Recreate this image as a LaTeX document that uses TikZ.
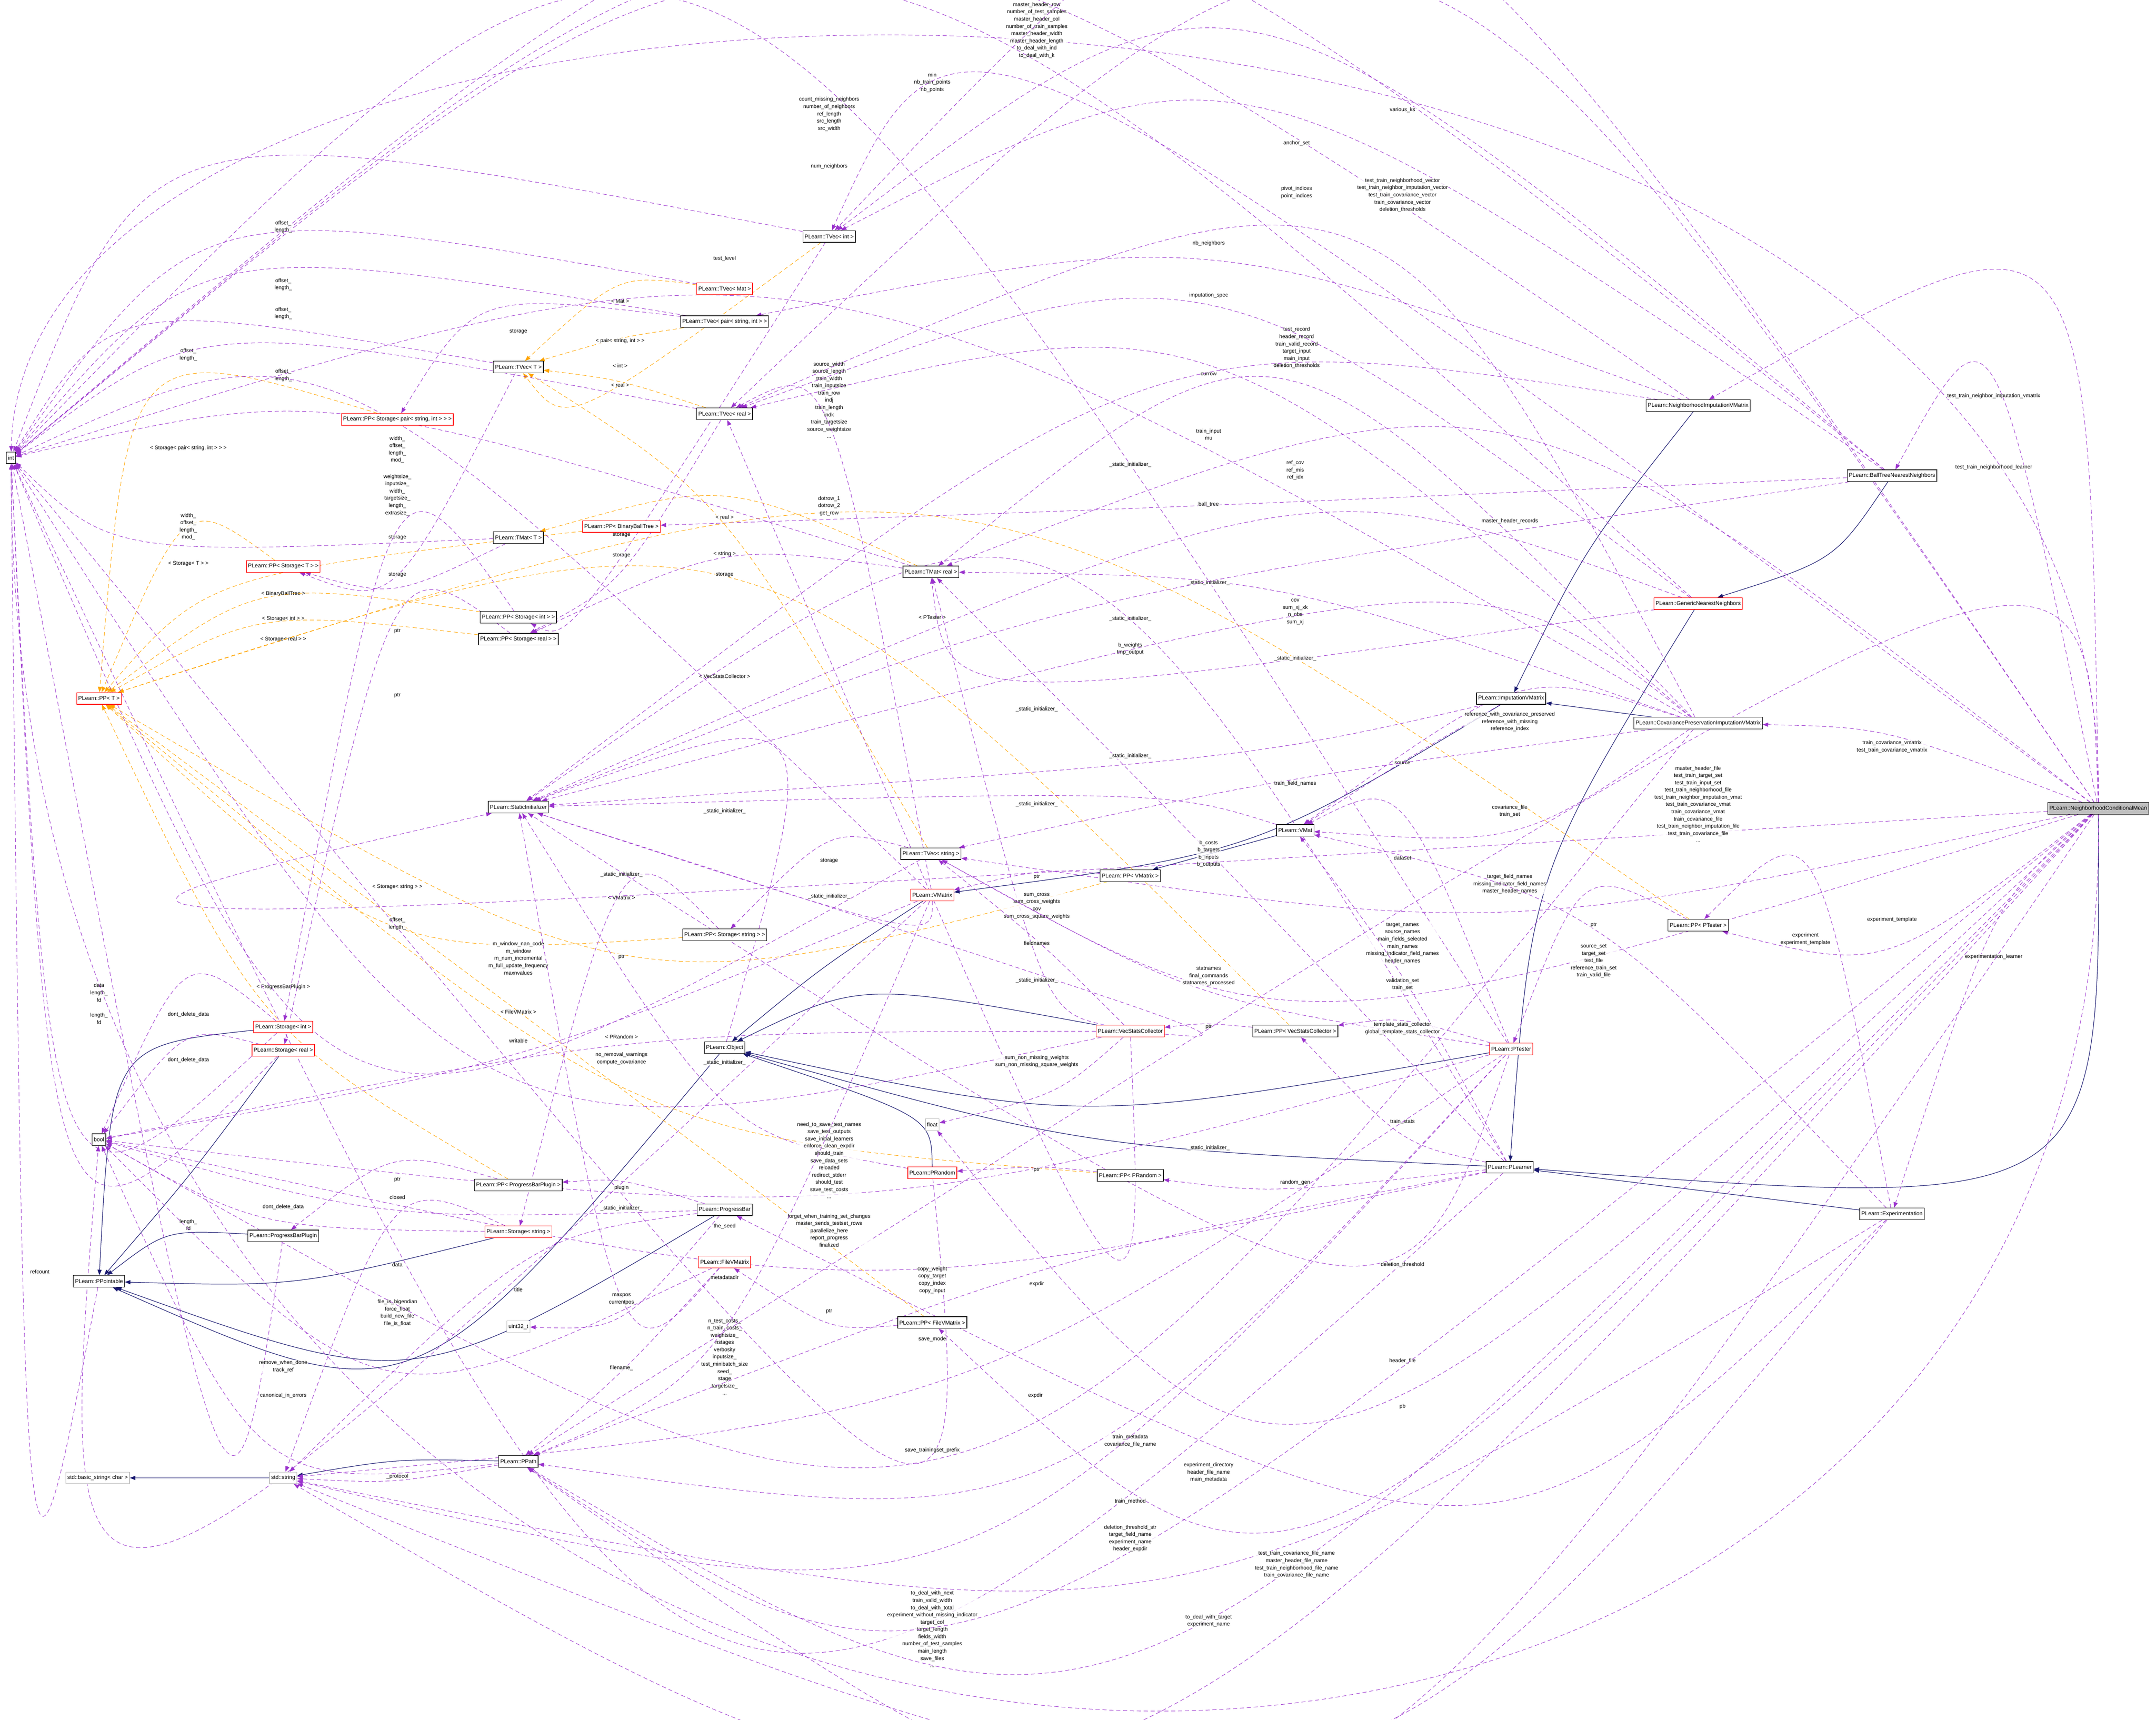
\documentclass[tikz,border=0pt]{standalone}
\usepackage{fontspec}
\setmainfont{Liberation Sans}
\usetikzlibrary{arrows.meta,calc}
\definecolor{pu}{HTML}{9A32CD}
\definecolor{og}{HTML}{FFA500}
\definecolor{nv}{HTML}{191970}
\definecolor{gr}{HTML}{BFBFBF}
\pgfdeclarelayer{bg}
\pgfsetlayers{bg,main}
\tikzset{
 cls/.style={draw=black,line width=1.2pt,fill=white,inner xsep=1.2mm,inner ysep=0pt,minimum height=8.5mm,font=\fontsize{11.5}{13}\selectfont},
 redc/.style={cls,draw=red},
 grc/.style={cls,draw=gr},
 lbl/.style={inner sep=0.3mm,align=center,font=\fontsize{11}{15}\selectfont,fill=white,fill opacity=0.8,text opacity=1},
 use/.style={pu,dash pattern=on 3mm off 2mm,line width=0.9pt,-{Triangle[length=4mm,width=3mm]}},
 tpl/.style={og,dash pattern=on 3mm off 2mm,line width=0.9pt,-{Triangle[length=4mm,width=3mm]}},
 inh/.style={nv,line width=1.1pt,-{Triangle[length=4mm,width=3mm]}},
}
\newcommand\ed[5]{\draw[#1] (#2) .. controls ($2*(#4)-0.5*(#2)-0.5*(#3)$) .. (#3); \node[lbl] at (#4) {#5};}
\newcommand\lnk[4]{\draw[#1] (#2) .. controls ($2*(#4)-0.5*(#2)-0.5*(#3)$) .. (#3);}
\begin{document}
\begin{tikzpicture}[x=1mm,y=-1mm]
\useasboundingbox (0,0) rectangle (1568,1251);
% nodes
\node[cls] (int) at (8,333) {int};
\node[cls] (TVecint) at (603,172) {PLearn::TVec< int >};
\node[redc] (TVecMat) at (527,210) {PLearn::TVec< Mat >};
\node[cls] (TVecPair) at (527,234) {PLearn::TVec< pair< string, int > >};
\node[cls] (TVecT) at (377,267) {PLearn::TVec< T >};
\node[cls] (TVecReal) at (527,301) {PLearn::TVec< real >};
\node[redc] (PPStorPair) at (289,305) {PLearn::PP< Storage< pair< string, int > > >};
\node[cls] (TMatT) at (377,391) {PLearn::TMat< T >};
\node[redc] (PPBBT) at (452,383) {PLearn::PP< BinaryBallTree >};
\node[cls] (TMatReal) at (677,416) {PLearn::TMat< real >};
\node[redc] (PPStorT) at (206,412) {PLearn::PP< Storage< T > >};
\node[cls] (PPStorInt) at (377,449) {PLearn::PP< Storage< int > >};
\node[cls] (PPStorReal) at (377,465) {PLearn::PP< Storage< real > >};
\node[redc] (PPT) at (72,508) {PLearn::PP< T >};
\node[cls] (SI) at (377,587) {PLearn::StaticInitializer};
\node[cls] (TVecString) at (677,621) {PLearn::TVec< string >};
\node[redc] (VMatrix) at (678,651) {PLearn::VMatrix};
\node[cls] (PPStorString) at (527,680) {PLearn::PP< Storage< string > >};
\node[cls] (PPVMatrix) at (822,637) {PLearn::PP< VMatrix >};
\node[cls] (VMat) at (942,604) {PLearn::VMat};
\node[cls] (Object) at (527,762) {PLearn::Object};
\node[redc] (VSC) at (822,750) {PLearn::VecStatsCollector};
\node[cls] (PPVSC) at (942,750) {PLearn::PP< VecStatsCollector >};
\node[redc] (StorInt) at (206,747) {PLearn::Storage< int >};
\node[redc] (StorReal) at (206,764) {PLearn::Storage< real >};
\node[cls] (bool) at (72,829) {bool};
\node[grc] (float) at (678,818) {float};
\node[redc] (PRandom) at (678,853) {PLearn::PRandom};
\node[cls] (PPPRandom) at (822,855) {PLearn::PP< PRandom >};
\node[cls] (PPPBP) at (377,862) {PLearn::PP< ProgressBarPlugin >};
\node[cls] (PB) at (527,880) {PLearn::ProgressBar};
\node[cls] (PBP) at (206,899) {PLearn::ProgressBarPlugin};
\node[redc] (StorString) at (377,896) {PLearn::Storage< string >};
\node[cls] (PPointable) at (72,932) {PLearn::PPointable};
\node[redc] (FileVM) at (527,918) {PLearn::FileVMatrix};
\node[grc] (uint) at (377,965) {uint32\_t};
\node[cls] (PPFileVM) at (678,962) {PLearn::PP< FileVMatrix >};
\node[cls] (PPath) at (377,1063) {PLearn::PPath};
\node[grc] (str) at (206,1075) {std::string};
\node[grc] (bstr) at (71,1075) {std::basic\_string< char >};
\node[cls] (Imp) at (1099,508) {PLearn::ImputationVMatrix};
\node[cls] (Cov) at (1235,526) {PLearn::CovariancePreservationImputationVMatrix};
\node[cls] (NIVM) at (1235,295) {PLearn::NeighborhoodImputationVMatrix};
\node[cls] (BT) at (1376,346) {PLearn::BallTreeNearestNeighbors};
\node[redc] (GNN) at (1235,439) {PLearn::GenericNearestNeighbors};
\node[cls] (PPPT) at (1235,673) {PLearn::PP< PTester >};
\node[redc] (PT) at (1099,763) {PLearn::PTester};
\node[cls] (PL) at (1098,849) {PLearn::PLearner};
\node[cls] (Exp) at (1376,883) {PLearn::Experimentation};
\node[cls,fill=gr] (NCM) at (1526,588) {PLearn::NeighborhoodConditionalMean};

\begin{pgfonlayer}{bg}
% inheritance
\lnk{inh}{Imp}{VMatrix}{900,600}
\lnk{inh}{NIVM}{Imp}{1160,400}
\draw[inh] (Cov) -- (Imp);
\lnk{inh}{BT}{GNN}{1320,400}
\lnk{inh}{GNN}{PL}{1140,640}
\draw[inh] (Exp) -- (PL);
\lnk{inh}{NCM}{PL}{1420,800}
\lnk{inh}{PL}{Object}{800,820}
\lnk{inh}{PT}{Object}{800,790}
\lnk{inh}{VSC}{Object}{650,735}
\lnk{inh}{VMatrix}{Object}{600,705}
\lnk{inh}{PRandom}{Object}{640,810}
\lnk{inh}{Object}{PPointable}{300,940}
\lnk{inh}{StorInt}{PPointable}{110,800}
\lnk{inh}{StorReal}{PPointable}{140,850}
\lnk{inh}{PBP}{PPointable}{130,905}
\lnk{inh}{StorString}{PPointable}{220,925}
\lnk{inh}{PB}{PPointable}{300,960}
\draw[inh] (str) -- (bstr);
\lnk{inh}{PPath}{str}{290,1065}
\draw[inh] (VMat) -- (PPVMatrix);

% templates (orange)
\ed{tpl}{TVecMat}{TVecT}{451,219}{< Mat >}
\ed{tpl}{TVecPair}{TVecT}{451,248}{< pair< string, int > >}
\ed{tpl}{TVecint}{TVecT}{451,266}{< int >}
\ed{tpl}{TVecReal}{TVecT}{451,280}{< real >}
\ed{tpl}{TVecString}{TVecT}{527,403}{< string >}
\ed{tpl}{TMatReal}{TMatT}{527,376}{< real >}
\ed{tpl}{PPStorPair}{PPT}{137,326}{< Storage< pair< string, int > > >}
\ed{tpl}{PPStorT}{PPT}{137,410}{< Storage< T > >}
\ed{tpl}{PPBBT}{PPT}{206,432}{< BinaryBallTree >}
\ed{tpl}{PPStorInt}{PPT}{206,450}{< Storage< int > >}
\ed{tpl}{PPStorReal}{PPT}{206,465}{< Storage< real > >}
\ed{tpl}{PPPT}{PPT}{678,449}{< PTester >}
\ed{tpl}{PPVSC}{PPT}{527,492}{< VecStatsCollector >}
\ed{tpl}{PPStorString}{PPT}{289,645}{< Storage< string > >}
\ed{tpl}{PPVMatrix}{PPT}{452,653}{< VMatrix >}
\ed{tpl}{PPPBP}{PPT}{206,718}{< ProgressBarPlugin >}
\ed{tpl}{PPFileVM}{PPT}{377,736}{< FileVMatrix >}
\ed{tpl}{PPPRandom}{PPT}{452,754}{< PRandom >}

% usage into int
\draw[use] (NCM) .. controls (1540,-110) and (20,-110) .. (int);
\node[lbl] at (754,22) {master\_header\_row\\number\_of\_test\_samples\\master\_header\_col\\number\_of\_train\_samples\\master\_header\_width\\master\_header\_length\\to\_deal\_with\_ind\\to\_deal\_with\_k};
\ed{use}{BT}{int}{678,60}{min\\nb\_train\_points\\nb\_points}
\ed{use}{NIVM}{int}{603,83}{count\_missing\_neighbors\\number\_of\_neighbors\\ref\_length\\src\_length\\src\_width}
\ed{use}{GNN}{int}{603,121}{num\_neighbors}
\ed{use}{TVecint}{int}{206,165}{offset\_\\length\_}
\ed{use}{PT}{int}{527,188}{test\_level}
\ed{use}{TVecMat}{int}{206,207}{offset\_\\length\_}
\ed{use}{TVecPair}{int}{206,228}{offset\_\\length\_}
\ed{use}{TVecT}{int}{137,258}{offset\_\\length\_}
\ed{use}{TVecReal}{int}{206,273}{offset\_\\length\_}
\ed{use}{TMatReal}{int}{289,327}{width\_\\offset\_\\length\_\\mod\_}
\ed{use}{VMatrix}{int}{289,360}{weightsize\_\\inputsize\_\\width\_\\targetsize\_\\length\_\\extrasize\_}
\ed{use}{TMatT}{int}{137,383}{width\_\\offset\_\\length\_\\mod\_}
\ed{use}{TVecString}{int}{289,672}{offset\_\\length\_}
\ed{use}{VSC}{int}{377,697}{m\_window\_nan\_code\\m\_window\\m\_num\_incremental\\m\_full\_update\_frequency\\maxnvalues}
\ed{use}{StorInt}{int}{72,722}{data\\length\_\\fd}
\ed{use}{StorReal}{int}{72,741}{length\_\\fd}
\ed{use}{PBP}{int}{137,891}{length\_\\fd}
\ed{use}{PPointable}{int}{29,925}{refcount}
\ed{use}{PL}{int}{527,987}{n\_test\_costs\_\\n\_train\_costs\_\\weightsize\_\\nstages\\verbosity\\inputsize\_\\test\_minibatch\_size\\seed\_\\stage\\targetsize\_\\...}
\draw[use] (NCM) .. controls (1540,1500) and (10,1500) .. (int);
\node[lbl] at (678,1185) {to\_deal\_with\_next\\train\_valid\_width\\to\_deal\_with\_total\\experiment\_without\_missing\_indicator\\target\_col\\target\_length\\fields\_width\\number\_of\_test\_samples\\main\_length\\save\_files\\...};
\ed{use}{Cov}{int}{603,291}{source\_width\\source\_length\\train\_width\\train\_inputsize\\train\_row\\indj\\train\_length\\indk\\train\_targetsize\\source\_weightsize\\...}
\ed{use}{PRandom}{int}{527,892}{the\_seed}

% TVec<int>
\ed{use}{NCM}{TVecint}{1020,80}{various\_ks}
\ed{use}{BT}{TVecint}{943,104}{anchor\_set}
\ed{use}{BT}{TVecint}{943,140}{pivot\_indices\\point\_indices}
\ed{use}{NCM}{TVecint}{879,177}{nb\_neighbors}
% TVec<real> and others
\ed{use}{NCM}{TVecReal}{1020,142}{test\_train\_neighborhood\_vector\\test\_train\_neighbor\_imputation\_vector\\test\_train\_covariance\_vector\\train\_covariance\_vector\\deletion\_thresholds}
\ed{use}{NIVM}{TVecPair}{879,215}{imputation\_spec}
\ed{use}{Cov}{TVecReal}{943,253}{test\_record\\header\_record\\train\_valid\_record\\target\_input\\main\_input\\deletion\_thresholds}
\ed{use}{GNN}{TVecReal}{879,272}{currow}
\ed{use}{Cov}{TVecReal}{879,316}{train\_input\\mu}
\ed{use}{Cov}{TMatReal}{942,342}{ref\_cov\\ref\_mis\\ref\_idx}
\ed{use}{BT}{PPBBT}{879,367}{ball\_tree}
\ed{use}{VMatrix}{TVecReal}{603,368}{dotrow\_1\\dotrow\_2\\get\_row}
\ed{use}{NCM}{TMatReal}{1098,379}{master\_header\_records}
\ed{use}{Cov}{TMatReal}{942,445}{cov\\sum\_xj\_xk\\n\_obs\\sum\_xj}
\ed{use}{GNN}{TMatReal}{822,472}{b\_weights\\tmp\_output}
\ed{use}{PL}{TMatReal}{879,621}{b\_costs\\b\_targets\\b\_inputs\\b\_outputs}
\ed{use}{VSC}{TMatReal}{754,659}{sum\_cross\\sum\_cross\_weights\\cov\\sum\_cross\_square\_weights}
\ed{use}{VSC}{TVecReal}{754,772}{sum\_non\_missing\_weights\\sum\_non\_missing\_square\_weights}
% storage
\ed{use}{TVecPair}{PPStorPair}{377,241}{storage}
\ed{use}{TVecT}{PPStorT}{289,391}{storage}
\ed{use}{TMatT}{PPStorT}{289,418}{storage}
\ed{use}{TVecint}{PPStorInt}{452,389}{storage}
\ed{use}{TVecReal}{PPStorReal}{452,404}{storage}
\ed{use}{TMatReal}{PPStorReal}{527,418}{storage}
\ed{use}{TVecString}{PPStorString}{603,626}{storage}
\ed{use}{PPStorInt}{StorInt}{289,459}{ptr}
\ed{use}{PPStorReal}{StorReal}{289,506}{ptr}
\ed{use}{PPStorString}{StorString}{452,696}{ptr}
% static initializer
\ed{use}{NIVM}{SI}{822,338}{\_static\_initializer\_}
\ed{use}{GNN}{SI}{879,424}{\_static\_initializer\_}
\ed{use}{BT}{SI}{822,450}{\_static\_initializer\_}
\ed{use}{Cov}{SI}{942,479}{\_static\_initializer\_}
\ed{use}{PL}{SI}{754,516}{\_static\_initializer\_}
\ed{use}{Imp}{SI}{822,550}{\_static\_initializer\_}
\ed{use}{VMat}{SI}{754,585}{\_static\_initializer\_}
\ed{use}{Object}{SI}{527,590}{\_static\_initializer\_}
\ed{use}{NCM}{SI}{452,636}{\_static\_initializer\_}
\ed{use}{VMatrix}{SI}{603,652}{\_static\_initializer\_}
\ed{use}{VSC}{SI}{754,713}{\_static\_initializer\_}
\ed{use}{PRandom}{SI}{527,773}{\_static\_initializer\_}
\ed{use}{PT}{SI}{879,835}{\_static\_initializer\_}
\ed{use}{FileVM}{SI}{452,879}{\_static\_initializer\_}
% VMat & TVec<string>
\ed{use}{Imp}{VMat}{1020,555}{source}
\ed{use}{Cov}{TVecString}{942,570}{train\_field\_names}
\ed{use}{PT}{VMat}{1020,624}{dataset}
\ed{use}{PPVMatrix}{VMatrix}{754,638}{ptr}
\ed{use}{VSC}{TVecString}{754,686}{fieldnames}
\ed{use}{NCM}{TVecString}{1020,686}{target\_names\\source\_names\\main\_fields\_selected\\main\_names\\missing\_indicator\_field\_names\\header\_names}
\ed{use}{PT}{TVecString}{879,710}{statnames\\final\_commands\\statnames\_processed}
\ed{use}{PL}{VMat}{1020,716}{validation\_set\\train\_set}
\ed{use}{PPVSC}{VSC}{879,747}{ptr}
\ed{use}{PT}{PPVSC}{1020,748}{template\_stats\_collector\\global\_template\_stats\_collector}
\ed{use}{PL}{PPVSC}{1020,816}{train\_stats}
\ed{use}{Cov}{VMat}{1098,525}{reference\_with\_covariance\_preserved\\reference\_with\_missing\\reference\_index}
\ed{use}{Cov}{VMat}{1098,590}{covariance\_file\\train\_set}
\ed{use}{NCM}{TVecString}{1098,643}{target\_field\_names\\missing\_indicator\_field\_names\\master\_header\_names}
\ed{use}{Exp}{VMat}{1159,699}{source\_set\\target\_set\\test\_file\\reference\_train\_set\\train\_valid\_file}
% NCM relations
\ed{use}{NCM}{NIVM}{1450,288}{test\_train\_neighbor\_imputation\_vmatrix}
\ed{use}{NCM}{BT}{1450,340}{test\_train\_neighborhood\_learner}
\ed{use}{NCM}{Cov}{1376,543}{train\_covariance\_vmatrix\\test\_train\_covariance\_vmatrix}
\ed{use}{NCM}{PPath}{1235,585}{master\_header\_file\\test\_train\_target\_set\\test\_train\_input\_set\\test\_train\_neighborhood\_file\\test\_train\_neighbor\_imputation\_vmat\\test\_train\_covariance\_vmat\\train\_covariance\_vmat\\train\_covariance\_file\\test\_train\_neighbor\_imputation\_file\\test\_train\_covariance\_file\\...}
\ed{use}{NCM}{PPPT}{1376,669}{experiment\_template}
\ed{use}{PPPT}{PT}{1159,673}{ptr}
\ed{use}{Exp}{PPPT}{1313,683}{experiment\\experiment\_template}
\ed{use}{NCM}{Exp}{1450,696}{experimentation\_learner}
% bool
\ed{use}{StorInt}{bool}{137,738}{dont\_delete\_data}
\ed{use}{StorReal}{bool}{137,771}{dont\_delete\_data}
\ed{use}{StorString}{bool}{206,878}{dont\_delete\_data}
\ed{use}{VMatrix}{bool}{377,757}{writable}
\ed{use}{VSC}{bool}{452,770}{no\_removal\_warnings\\compute\_covariance}
\ed{use}{PB}{bool}{289,871}{closed}
\ed{use}{FileVM}{bool}{289,955}{file\_is\_bigendian\\force\_float\\build\_new\_file\\file\_is\_float}
\ed{use}{VMatrix}{bool}{206,994}{remove\_when\_done\\track\_ref}
\ed{use}{PPath}{bool}{206,1015}{canonical\_in\_errors}
\ed{use}{PT}{bool}{603,844}{need\_to\_save\_test\_names\\save\_test\_outputs\\save\_initial\_learners\\enforce\_clean\_expdir\\should\_train\\save\_data\_sets\\reloaded\\redirect\_stderr\\should\_test\\save\_test\_costs\\...}
\ed{use}{PL}{bool}{603,895}{forget\_when\_training\_set\_changes\\master\_sends\_testset\_rows\\parallelize\_here\\report\_progress\\finalized}
\ed{use}{Cov}{bool}{678,931}{copy\_weight\\copy\_target\\copy\_index\\copy\_input}
% misc
\ed{use}{PPPBP}{PBP}{289,858}{ptr}
\ed{use}{PB}{PPPBP}{452,864}{plugin}
\ed{use}{StorString}{str}{289,920}{data}
\ed{use}{PB}{str}{377,938}{title}
\ed{use}{PB}{uint}{452,945}{maxpos\\currentpos}
\ed{use}{FileVM}{PPath}{452,995}{filename\_}
\ed{use}{PPPRandom}{PRandom}{754,851}{ptr}
\ed{use}{PL}{PPPRandom}{942,860}{random\_gen}
\ed{use}{VMatrix}{PPath}{527,929}{metadatadir}
\ed{use}{PL}{PPath}{754,934}{expdir}
\ed{use}{NCM}{float}{1020,920}{deletion\_threshold}
\lnk{use}{VSC}{float}{760,790}
\ed{use}{PPFileVM}{FileVM}{603,954}{ptr}
\ed{use}{PT}{str}{678,974}{save\_mode}
\ed{use}{NCM}{PPFileVM}{1020,990}{header\_file}
\ed{use}{PT}{PPath}{753,1015}{expdir}
\ed{use}{Exp}{PB}{1020,1023}{pb}
\ed{use}{NCM}{PPath}{822,1048}{train\_metadata\\covariance\_file\_name}
\ed{use}{PT}{str}{678,1055}{save\_trainingset\_prefix}
\ed{use}{NCM}{PPath}{879,1071}{experiment\_directory\\header\_file\_name\\main\_metadata}
\ed{use}{Exp}{str}{822,1092}{train\_method}
\ed{use}{NCM}{str}{822,1119}{deletion\_threshold\_str\\target\_field\_name\\experiment\_name\\header\_expdir}
\ed{use}{NCM}{PPath}{943,1138}{test\_train\_covariance\_file\_name\\master\_header\_file\_name\\test\_train\_neighborhood\_file\_name\\train\_covariance\_file\_name}
\ed{use}{Exp}{str}{879,1179}{to\_deal\_with\_target\\experiment\_name}
\ed{use}{PPath}{str}{289,1074}{\_protocol}
\end{pgfonlayer}
\end{tikzpicture}
\end{document}
